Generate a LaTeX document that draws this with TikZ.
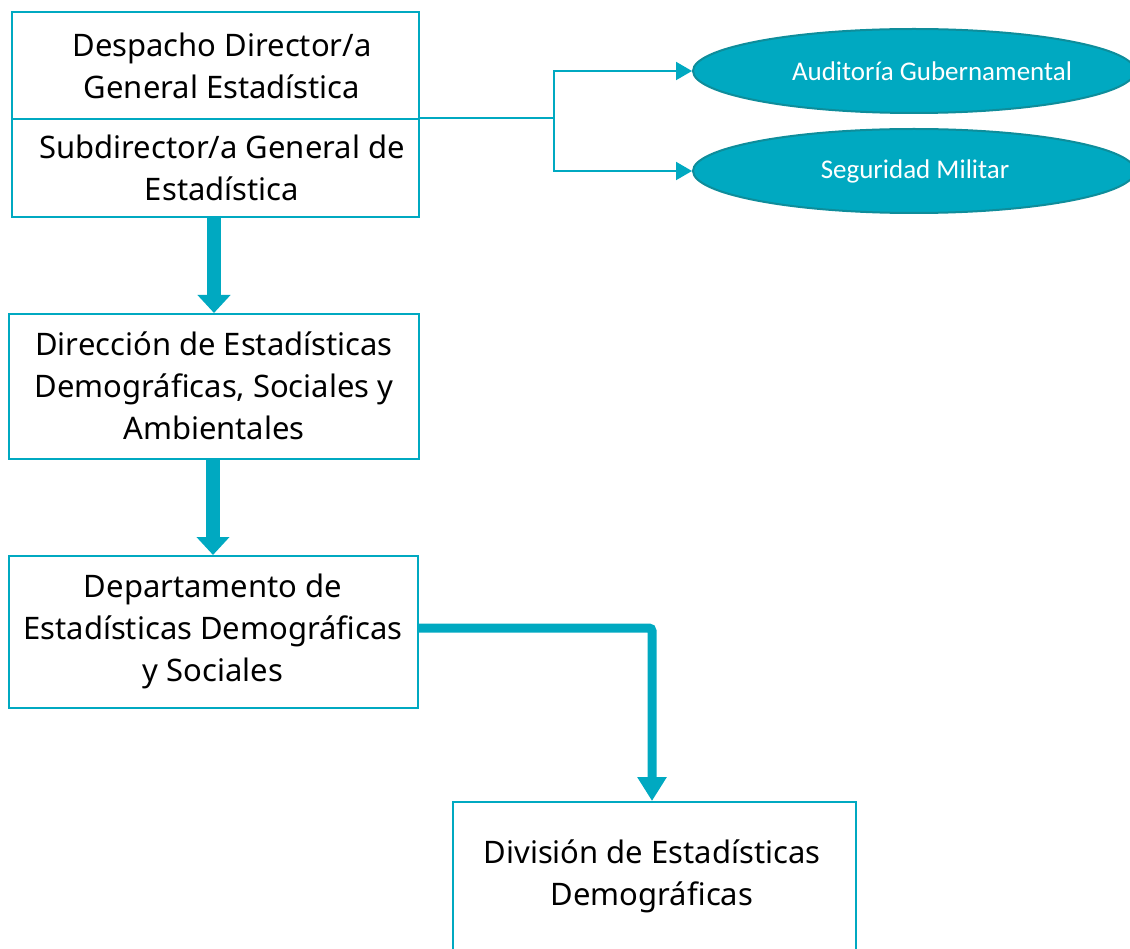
\documentclass[tikz,border=0pt]{standalone}
\usepackage{fontspec}
\setmainfont{Noto Sans}
\newfontfamily\calib{Carlito}
\usetikzlibrary{arrows.meta,shapes.geometric}
\definecolor{teal1}{HTML}{00A9C1}
\definecolor{tealdark}{HTML}{0E8D9B}
\begin{document}
\begin{tikzpicture}[x=1pt,y=-1pt,
  box/.style={draw=teal1,line width=2.2pt,rectangle,inner sep=0pt,anchor=north west},
  lbl/.style={align=center,font=\fontsize{31}{42}\selectfont,text=black,inner sep=0pt},
  oval/.style={ellipse,draw=tealdark,fill=teal1,line width=2pt,inner sep=0pt},
  olbl/.style={font=\calib\fontsize{27}{32}\selectfont,text=white,inner sep=0pt},
  thin/.style={draw=teal1,line width=2pt,-{Triangle[length=16pt,width=18pt]}},
  thick/.style={draw=teal1,line width=14pt,-{Triangle[length=18pt,width=32pt]}},
  mid/.style={draw=teal1,line width=9pt,-{Triangle[length=24pt,width=28pt]}}]
\useasboundingbox (0,0) rectangle (1130,949);
% boxes
\node[box,minimum width=407pt,minimum height=107pt] (b1) at (11,11) {};
\node[box,minimum width=407pt,minimum height=98pt] (b2) at (11,118) {};
\node[box,minimum width=410pt,minimum height=145pt] (b3) at (8,313) {};
\node[box,minimum width=409pt,minimum height=152pt] (b4) at (8,555) {};
\node[box,minimum width=403pt,minimum height=170pt] (b5) at (452,801) {};
% labels
\node[lbl] (t1) at (222,66) {Despacho Director/a\\General Estadística};
\node[lbl] (t2) at (222,168) {Subdirector/a General de\\Estadística};
\node[lbl] (t3) at (214,386) {Dirección de Estadísticas\\Demográficas, Sociales y\\Ambientales};
\node[lbl] (t4) at (213,631) {Departamento de\\Estadísticas Demográficas\\y Sociales};
\node[lbl] (t5) at (652,876) {División de Estadísticas\\Demográficas};
% ellipses
\node[oval,minimum width=442pt,minimum height=84pt] (e1) at (914,71) {};
\node[oval,minimum width=442pt,minimum height=84pt] (e2) at (914,171) {};
\node[olbl] (o1) at (932,71) {Auditoría Gubernamental};
\node[olbl] (o2) at (915,171) {Seguridad Militar};
% connectors
\coordinate (j) at (554,118);
\draw[draw=teal1,line width=2pt] (b2.north east) -- (j);
\draw[thin] (j) |- (e1.west);
\draw[thin] (j) |- (e2.west);
\draw[thick] (214,216) -- (b3.north -| 214,0);
\draw[thick] (213,458) -- (b4.north -| 213,0);
\draw[mid,rounded corners=3pt] (b4.east |- 0,628) -- (652,628) -- (b5.north -| 652,0);
\end{tikzpicture}
\end{document}
